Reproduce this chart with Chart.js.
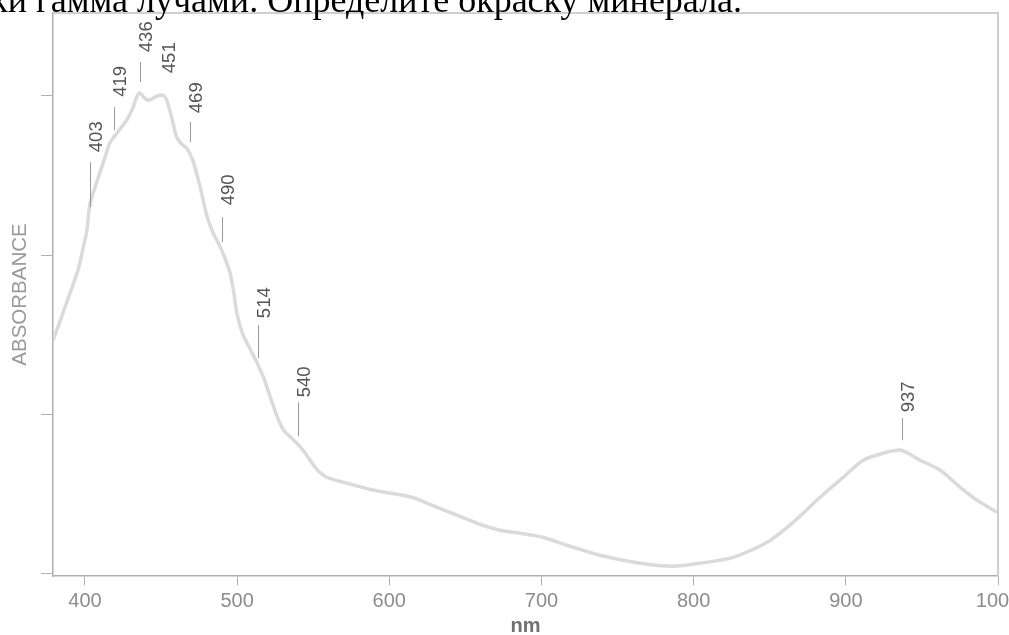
<!DOCTYPE html>
<html>
<head>
<meta charset="utf-8">
<script src="https://cdn.jsdelivr.net/npm/chart.js@4.4.1/dist/chart.umd.min.js"></script>
<style>
  html, body { margin: 0; padding: 0; background: #fff; overflow: hidden; }
  #wrap { position: relative; width: 1009px; height: 635px; }
</style>
</head>
<body>
<div id="wrap"><canvas id="c"></canvas></div>
<script>
// ---- data ----
const wavelengthNm = [379, 383.4, 387.8, 395.4, 398.5, 401.3, 403.1, 406.4, 409.7, 413, 416.2, 419.5, 423.5, 427.4, 431.4, 434, 436, 438.6, 441.2, 443.9, 447.2, 451.2, 453.7, 455.7, 457.7, 460.3, 463.6, 466.9, 470.8, 475.4, 480, 484, 487.3, 489.9, 492.5, 495.2, 497.8, 499.8, 503.7, 508.3, 512.9, 517.5, 521.4, 526, 530.6, 535.9, 541.1, 545.7, 550.3, 554.3, 558.9, 567.4, 577.3, 587.2, 597, 608.9, 616.8, 626.6, 639.8, 649.7, 659.5, 672.7, 685.8, 700.9, 716.7, 738.4, 764.8, 786.5, 804.2, 825.9, 848.3, 865.4, 883.1, 898.3, 911.4, 924.6, 936.4, 948.9, 962.1, 975.2, 986.4, 999.5];
const absorbance = [1.465, 1.578, 1.698, 1.905, 2.031, 2.156, 2.313, 2.420, 2.514, 2.609, 2.703, 2.747, 2.797, 2.847, 2.923, 2.992, 3.017, 2.992, 2.973, 2.979, 2.998, 3.004, 2.973, 2.910, 2.835, 2.740, 2.696, 2.671, 2.596, 2.439, 2.251, 2.144, 2.081, 2.031, 1.968, 1.893, 1.767, 1.635, 1.503, 1.415, 1.327, 1.227, 1.120, 0.994, 0.900, 0.850, 0.800, 0.743, 0.680, 0.636, 0.605, 0.580, 0.555, 0.530, 0.511, 0.492, 0.473, 0.435, 0.385, 0.347, 0.310, 0.272, 0.253, 0.228, 0.178, 0.115, 0.065, 0.046, 0.065, 0.102, 0.197, 0.322, 0.479, 0.605, 0.712, 0.756, 0.775, 0.712, 0.649, 0.542, 0.460, 0.385];
const xTickValues = [400, 500, 600, 700, 800, 900, 1000];
const yTickValues = [0, 1, 2, 3];
const peakLabels = ['403', '419', '436', '451', '469', '490', '514', '540', '937'];
const peakNm = [403, 419, 436, 451, 469, 490, 514, 540, 937];
const markTop = [2.583, 2.929, 3.212, null, 2.835, 2.238, 1.560, 1.076, 0.976];
const markBottom = [2.301, 2.784, 3.086, null, 2.709, 2.081, 1.352, 0.862, 0.837];
const labelBase = [2.646, 2.994, 3.274, 3.142, 2.891, 2.313, 1.604, 1.107, 1.013];
const headerPrefix = 'обработки ';
const headerText = 'гамма лучами. Определите окраску минерала.';

const points = wavelengthNm.map((x, i) => ({ x: x, y: absorbance[i] }));

const frameAndHeader = {
  id: 'frameAndHeader',
  afterDraw(chart) {
    const ctx = chart.ctx, a = chart.chartArea;
    ctx.save();
    ctx.strokeStyle = '#cfcfcf';
    ctx.lineWidth = 2;
    ctx.beginPath();
    ctx.moveTo(a.left, a.top);
    ctx.lineTo(a.right, a.top);
    ctx.lineTo(a.right, a.bottom);
    ctx.stroke();
    ctx.fillStyle = '#000';
    ctx.font = '36px "Liberation Serif", "Times New Roman", serif';
    ctx.textBaseline = 'alphabetic';
    ctx.textAlign = 'left';
    const pre = ctx.measureText(headerPrefix).width;
    ctx.fillText(headerPrefix + headerText, 36 - pre, 12);
    ctx.restore();
  }
};

const peakMarks = {
  id: 'peakMarks',
  afterDatasetsDraw(chart) {
    const ctx = chart.ctx, xs = chart.scales.x, ys = chart.scales.y;
    ctx.save();
    ctx.strokeStyle = '#9a9a9a';
    ctx.lineWidth = 1;
    ctx.fillStyle = '#555';
    ctx.font = '18.5px "Liberation Sans", Arial, sans-serif';
    peakNm.forEach((nm, i) => {
      const px = Math.round(xs.getPixelForValue(nm)) + 0.5;
      if (markTop[i] !== null) {
        ctx.beginPath();
        ctx.moveTo(px, ys.getPixelForValue(markTop[i]));
        ctx.lineTo(px, ys.getPixelForValue(markBottom[i]));
        ctx.stroke();
      }
      ctx.save();
      ctx.translate(px + 6, ys.getPixelForValue(labelBase[i]));
      ctx.rotate(-Math.PI / 2);
      ctx.textAlign = 'left';
      ctx.textBaseline = 'middle';
      ctx.fillText(peakLabels[i], 0, 0);
      ctx.restore();
    });
    ctx.restore();
  }
};

new Chart(document.getElementById('c'), {
  type: 'line',
  data: {
    datasets: [{
      data: points,
      borderColor: '#dadada',
      borderWidth: 3.5,
      pointRadius: 0,
      tension: 0.25,
      fill: false
    }]
  },
  options: {
    responsive: true,
    maintainAspectRatio: false,
    animation: false,
    layout: { padding: { top: 13, right: 11, left: 0, bottom: 0 } },
    plugins: { legend: { display: false }, tooltip: { enabled: false } },
    scales: {
      x: {
        type: 'linear',
        min: 379,
        max: 1000,
        afterBuildTicks: s => { s.ticks = xTickValues.map(v => ({ value: v })); },
        afterFit: s => { s.height = 59; s.paddingLeft = 0; s.paddingRight = 0; },
        ticks: {
          color: '#8c8c8c',
          font: { size: 20, family: '"Liberation Sans", Arial, sans-serif' },
          padding: 4,
          maxRotation: 0,
          autoSkip: false,
          callback: v => String(v)
        },
        grid: { drawOnChartArea: false, tickLength: 9, color: '#b0b0b0' },
        border: { color: '#b0b0b0', width: 1.5 },
        title: {
          display: true,
          text: 'nm',
          color: '#707070',
          font: { size: 20, weight: 'bold', family: '"Liberation Sans", Arial, sans-serif', lineHeight: 1 },
          padding: { top: 0, bottom: -1 }
        }
      },
      y: {
        min: -0.015,
        max: 3.52,
        afterBuildTicks: s => { s.ticks = yTickValues.map(v => ({ value: v })); },
        afterFit: s => { s.width = 53; s.paddingTop = 0; s.paddingBottom = 0; },
        ticks: { display: false },
        grid: { drawOnChartArea: false, tickLength: 12, color: '#b0b0b0' },
        border: { color: '#b0b0b0', width: 1.5 },
        title: {
          display: true,
          text: 'ABSORBANCE',
          color: '#9a9a9a',
          font: { size: 20.5, family: '"Liberation Sans", Arial, sans-serif', lineHeight: 1 },
          padding: { top: 10, bottom: 0 }
        }
      }
    }
  },
  plugins: [frameAndHeader, peakMarks]
});
</script>
</body>
</html>
